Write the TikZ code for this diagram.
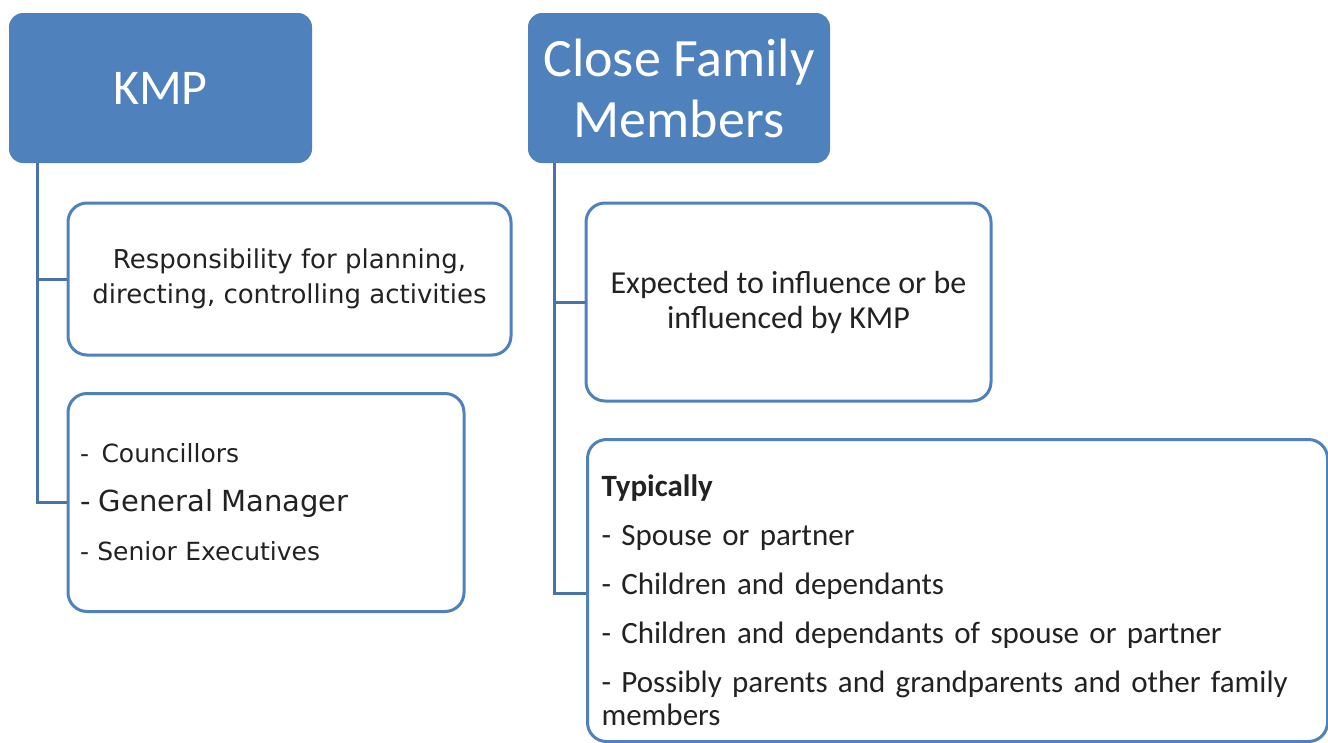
\documentclass[tikz,border=0pt]{standalone}
\usepackage{fontspec}
\setmainfont{Carlito}
\newfontfamily\boxfont{DejaVu Sans}
\usetikzlibrary{positioning}
\definecolor{kmpblue}{HTML}{4F81BD}
\definecolor{linkblue}{HTML}{4872AB}
\definecolor{inktext}{HTML}{222222}

\newcommand{\wdth}{1328}
\newcommand{\hght}{742}
\newcommand{\ltrunk}{29pt}
\newcommand{\rtrunk}{27pt}

\begin{document}
\begin{tikzpicture}[x=1pt,y=-1pt,
                    header/.style={rectangle,rounded corners=14pt,fill=kmpblue,text=white,align=center,inner sep=0pt},
                    itembox/.style={rectangle,rounded corners=19pt,draw=kmpblue,line width=3pt,fill=white,text=inktext,inner sep=0pt},
                    link/.style={draw=linkblue,line width=3pt}]
                    \useasboundingbox (0,0) rectangle (\wdth,\hght);
                    \clip (0,0) rectangle (\wdth,\hght);
                    \node[header,minimum width=303,minimum height=150,font=\fontsize{50}{58}\selectfont] (kmp) at (160.5,88) {KMP};
                    \node[header,minimum width=302,minimum height=150,font=\fontsize{54}{61}\selectfont] (cfm) at (679,88) {Close Family\\Members};
                    \node[itembox,minimum width=443,minimum height=152,align=center,font=\boxfont\fontsize{26}{35}\selectfont] (resp) at (289.5,279) {Responsibility for planning,\\directing, controlling activities};
                    \node[itembox,minimum width=396,minimum height=218,text width=372,align=left,font=\boxfont\fontsize{25}{49}\selectfont] (kmplist) at (266,502.5)
                        {-\enspace Councillors\\\fontsize{29}{49}\selectfont - General Manager\\\fontsize{25}{49}\selectfont - Senior Executives};
                    \node[itembox,minimum width=405,minimum height=198,align=center,font=\fontsize{32}{35}\selectfont] (infl) at (788.5,302) {Expected to influence or be\\influenced by KMP};
                    \node[itembox,anchor=north west,minimum width=740,text width=712,inner xsep=14pt,align=left,font=\fontsize{31}{33}\selectfont] (typ) at (586,438)
                        {\rule{0pt}{57pt}\textbf{Typically}\\[16pt]
                         - Spouse or partner\\[16pt]
                         - Children and dependants\\[16pt]
                         - Children and dependants of spouse or partner\\[16pt]
                         - Possibly parents and grandparents and other family\\
                         members\rule[-16pt]{0pt}{16pt}};
                    \draw[link] ([xshift=\ltrunk]kmp.south west) |- (kmplist.west);
                    \draw[link] (resp.west) -| ([xshift=\ltrunk]kmp.south west);
                    \draw[link] ([xshift=\rtrunk]cfm.south west) |- ([yshift=-155pt]typ.north west);
                    \draw[link] (infl.west) -| ([xshift=\rtrunk]cfm.south west);
                \end{tikzpicture}
\end{document}
